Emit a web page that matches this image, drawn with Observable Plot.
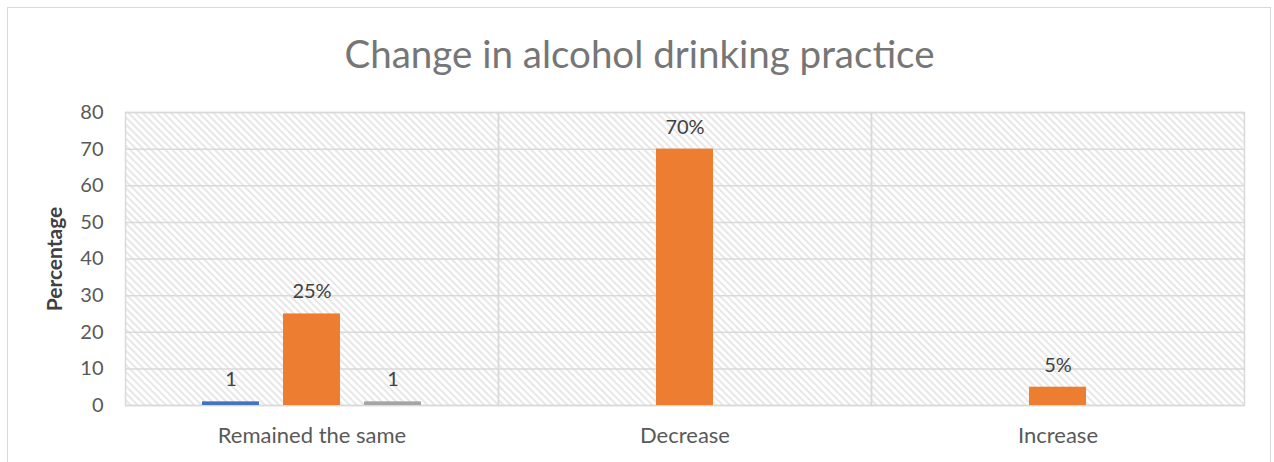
<!DOCTYPE html>
<html>
<head>
<meta charset="utf-8">
<script src="https://cdn.jsdelivr.net/npm/d3@7"></script>
<script src="https://cdn.jsdelivr.net/npm/@observablehq/plot@0.6"></script>
<style>
  html, body { margin: 0; padding: 0; background: #fff; }
  #wrap { position: relative; width: 1274px; height: 462px; overflow: hidden; font-family: Lato, "Open Sans", sans-serif; }
  #border { position: absolute; left: 7px; top: 7px; width: 1264px; height: 480px; border: 1px solid #d9d9d9; box-sizing: border-box; }
  #title { position: absolute; left: 0; width: 1279px; top: 34px; text-align: center; font-size: 38.5px; line-height: 1; color: #767676; }
  #chart { position: absolute; left: 0; top: 100px; }
</style>
</head>
<body>
<div id="wrap">
  <div id="border"></div>
  <div id="title">Change in alcohol drinking practice</div>
  <div id="chart"></div>
</div>
<script>
const categories = ["Remained the same", "Decrease", "Increase"];
const seriesNames = ["Series1", "Series2", "Series3"];
const series1 = [1, 0, 0];
const series2 = [25, 70, 5];
const series3 = [1, 0, 0];
const labels1 = ["1", "", ""];
const labels2 = ["25%", "70%", "5%"];
const labels3 = ["1", "", ""];
const seriesColors = ["#4472C4", "#ED7D31", "#A5A5A5"];
const yTicks = [0, 10, 20, 30, 40, 50, 60, 70, 80];

const allValues = [series1, series2, series3];
const allLabels = [labels1, labels2, labels3];
const rows = [];
categories.forEach((c, i) => {
  seriesNames.forEach((s, j) => {
    rows.push({cat: c, series: s, value: allValues[j][i], label: allLabels[j][i]});
  });
});
const shown = rows.filter(d => d.value > 0);

const svg = Plot.plot({
  width: 1274,
  height: 362,
  marginTop: 12,
  marginBottom: 57,
  marginLeft: 124,
  marginRight: 29,
  style: {fontFamily: "Lato, 'Open Sans', sans-serif", background: "transparent"},
  fx: {domain: categories, padding: 0, label: null},
  x: {domain: seriesNames, paddingInner: 0.3, paddingOuter: 0.94, axis: null},
  y: {domain: [0, 80], label: "Percentage"},
  color: {domain: seriesNames, range: seriesColors},
  marks: [
    Plot.frame({fill: "url(#hatch)", stroke: null}),
    Plot.gridY(yTicks, {stroke: "#d9d9d9", strokeOpacity: 1, strokeWidth: 1.5}),
    Plot.frame({stroke: "#d9d9d9", strokeWidth: 1.5}),
    Plot.barY(shown, {fx: "cat", x: "series", y: "value", fill: "series"}),
    Plot.text(shown, {fx: "cat", x: "series", y: "value", text: "label", dy: -22, fontSize: 20, fill: "#404040"}),
    Plot.axisY(yTicks, {tickSize: 0, tickPadding: 22, fontSize: 20, color: "#595959", label: "Percentage", labelAnchor: "center", labelOffset: 78, labelArrow: "none"}),
    Plot.axisFx({anchor: "bottom", tickSize: 0, tickPadding: 22, fontSize: 22, color: "#595959", label: null})
  ]
});

// hatch pattern for the plot background
const ns = "http://www.w3.org/2000/svg";
const defs = document.createElementNS(ns, "defs");
const pat = document.createElementNS(ns, "pattern");
pat.setAttribute("id", "hatch");
pat.setAttribute("width", "5");
pat.setAttribute("height", "5");
pat.setAttribute("patternUnits", "userSpaceOnUse");
pat.setAttribute("patternTransform", "rotate(-45)");
const bg = document.createElementNS(ns, "rect");
bg.setAttribute("width", "5"); bg.setAttribute("height", "5"); bg.setAttribute("fill", "#ffffff");
const ln = document.createElementNS(ns, "line");
ln.setAttribute("x1", "1"); ln.setAttribute("y1", "0"); ln.setAttribute("x2", "1"); ln.setAttribute("y2", "5");
ln.setAttribute("stroke", "#e0e0e0"); ln.setAttribute("stroke-width", "1.5");
pat.appendChild(bg); pat.appendChild(ln); defs.appendChild(pat);
svg.insertBefore(defs, svg.firstChild);

// bold y label
svg.querySelectorAll("[aria-label='y-axis label'] text, [aria-label='y-axis label']").forEach(el => {
  el.setAttribute("font-weight", "bold");
  el.setAttribute("font-size", "21");
  el.setAttribute("fill", "#404040");
});

document.getElementById("chart").appendChild(svg);
</script>
</body>
</html>
